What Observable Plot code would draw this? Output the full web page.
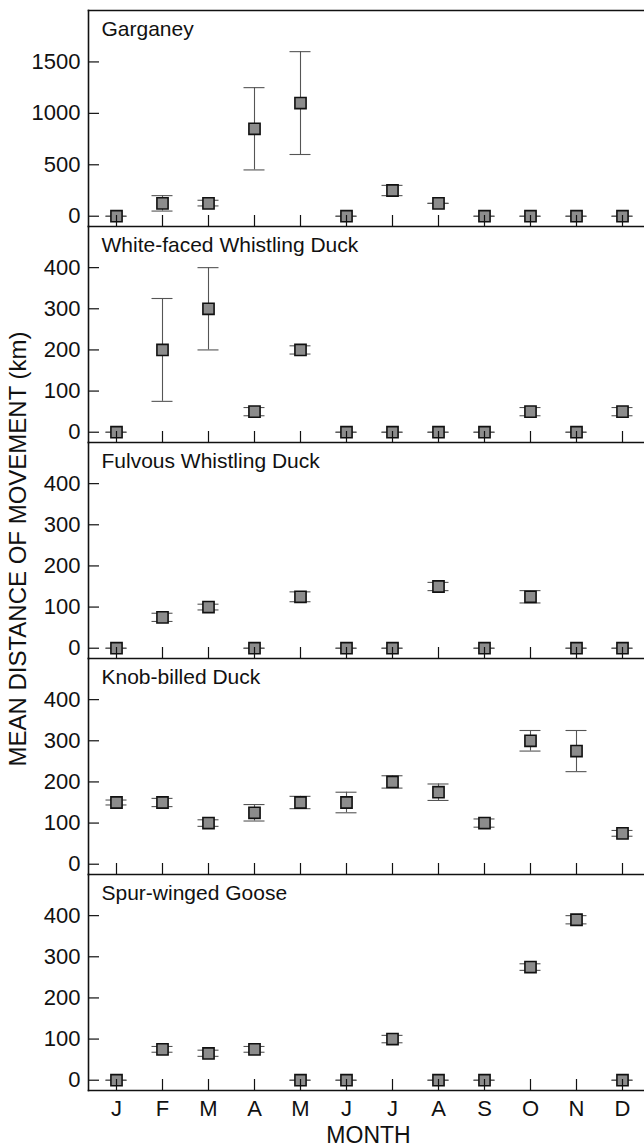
<!DOCTYPE html>
<html><head><meta charset="utf-8">
<script src="https://cdn.jsdelivr.net/npm/d3@7"></script>
<script src="https://cdn.jsdelivr.net/npm/@observablehq/plot@0.6"></script>
<style>
body{margin:0;background:#fff;}
#chart{position:relative;width:644px;height:1147px;overflow:hidden;font-family:"Liberation Sans",Arial,sans-serif;color:#111;}
.panel{position:absolute;left:0;}
#ytitle{position:absolute;left:18px;top:549px;transform:translate(-50%,-50%) rotate(-90deg);font-size:24px;white-space:nowrap;line-height:1;}
</style>
</head><body><div id="chart"><div id="ytitle">MEAN DISTANCE OF MOVEMENT (km)</div></div>
<script>
const monthLabels = ["J","F","M","A","M","J","J","A","S","O","N","D"];
const months = [1,2,3,4,5,6,7,8,9,10,11,12];
const species = ["Garganey","White-faced Whistling Duck","Fulvous Whistling Duck","Knob-billed Duck","Spur-winged Goose"];

const garganeyMean = [0,125,125,850,1100,0,250,125,0,0,0,0];
const garganeyLow  = [0,50,100,450,600,0,200,125,0,0,0,0];
const garganeyHigh = [0,200,155,1250,1600,0,300,125,0,0,0,0];

const whiteFacedMean = [0,200,300,50,200,0,0,0,0,50,0,50];
const whiteFacedLow  = [0,75,200,40,190,0,0,0,0,40,0,40];
const whiteFacedHigh = [0,325,400,60,210,0,0,0,0,60,0,60];

const fulvousMean = [0,75,100,0,125,0,0,150,0,125,0,0];
const fulvousLow  = [0,65,93,0,113,0,0,140,0,110,0,0];
const fulvousHigh = [0,85,107,0,137,0,0,160,0,140,0,0];

const knobBilledMean = [150,150,100,125,150,150,200,175,100,300,275,75];
const knobBilledLow  = [144,140,92,105,135,125,185,155,90,275,225,68];
const knobBilledHigh = [156,160,108,145,165,175,215,195,110,325,325,82];

const spurWingedMean = [0,75,65,75,0,0,100,0,0,275,390,0];
const spurWingedLow  = [0,68,58,68,0,0,91,0,0,267,380,0];
const spurWingedHigh = [0,82,73,82,0,0,109,0,0,283,400,0];

const garganeyTicks = [0,500,1000,1500];
const otherTicks = [0,100,200,300,400];

const panels = [
  {name: species[0], mean: garganeyMean, low: garganeyLow, high: garganeyHigh, domain: [-100, 2000], ticks: garganeyTicks},
  {name: species[1], mean: whiteFacedMean, low: whiteFacedLow, high: whiteFacedHigh, domain: [-25, 500], ticks: otherTicks},
  {name: species[2], mean: fulvousMean, low: fulvousLow, high: fulvousHigh, domain: [-25, 500], ticks: otherTicks},
  {name: species[3], mean: knobBilledMean, low: knobBilledLow, high: knobBilledHigh, domain: [-25, 500], ticks: otherTicks},
  {name: species[4], mean: spurWingedMean, low: spurWingedLow, high: spurWingedHigh, domain: [-25, 500], ticks: otherTicks}
];

const chart = document.getElementById("chart");
const PH = 216, TOP = 10, ML = 88, STEP = 46.9;
const font = "Liberation Sans, Arial, sans-serif";
const barColor = "#555";
const ink = "#111";

panels.forEach((p, i) => {
  const last = i === panels.length - 1;
  const data = months.map((m, j) => ({m, mean: p.mean[j], low: p.low[j], high: p.high[j]}));
  const padT = 12, padB = last ? 60 : 12;
  const marks = [
    Plot.ruleX(data, {x: "m", y1: "low", y2: "high", stroke: barColor, strokeWidth: 1.1}),
    Plot.tickY(data, {x: "m", y: "low", stroke: barColor, strokeWidth: 1.1, insetLeft: 12.5, insetRight: 12.5}),
    Plot.tickY(data, {x: "m", y: "high", stroke: barColor, strokeWidth: 1.1, insetLeft: 12.5, insetRight: 12.5}),
    Plot.dot(data, {x: "m", y: "mean", symbol: "square", r: 6.3, fill: "#8c8c8c", stroke: ink, strokeWidth: 1.6}),
    Plot.axisY(p.ticks, {tickSize: 0, tickPadding: 8, fontSize: 22, fill: ink, label: null, tickFormat: d => String(d)}),
    Plot.axisY(p.ticks, {tickSize: -11, text: null, label: null, stroke: ink, strokeWidth: 1.2}),
    Plot.axisX(months, {tickSize: -11, text: null, label: null, stroke: ink, strokeWidth: 1.2}),
    Plot.frame({anchor: "left", stroke: ink, strokeWidth: 1.6}),
    Plot.frame({anchor: "bottom", stroke: ink, strokeWidth: 1.6}),
    Plot.text([p.name], {frameAnchor: "top-left", dx: 13, dy: 11, lineAnchor: "top", textAnchor: "start", fontSize: 21, fill: ink})
  ];
  if (i === 0) marks.push(Plot.frame({anchor: "top", stroke: ink, strokeWidth: 1.6}));
  if (last) {
    marks.push(Plot.axisX(months, {tickSize: 0, tickPadding: 10, fontSize: 22, fill: ink, label: null, tickFormat: m => monthLabels[m - 1]}));
    marks.push(Plot.text(["MONTH"], {frameAnchor: "bottom", dx: 2, dy: 36, lineAnchor: "top", fontSize: 23, fill: ink}));
  }
  const svg = Plot.plot({
    width: 644,
    height: PH + padT + padB,
    marginLeft: ML, marginRight: 0, marginTop: padT, marginBottom: padB,
    style: {overflow: "visible", background: "transparent", fontFamily: font, color: ink},
    x: {type: "band", domain: months, range: [ML, ML + 12 * STEP], padding: 0, axis: null, label: null},
    y: {domain: p.domain, axis: null, label: null},
    marks
  });
  svg.classList.add("panel");
  svg.style.position = "absolute";
  svg.style.top = (TOP + PH * i - padT) + "px";
  svg.style.left = "0px";
  chart.appendChild(svg);
});
</script>
</body></html>
